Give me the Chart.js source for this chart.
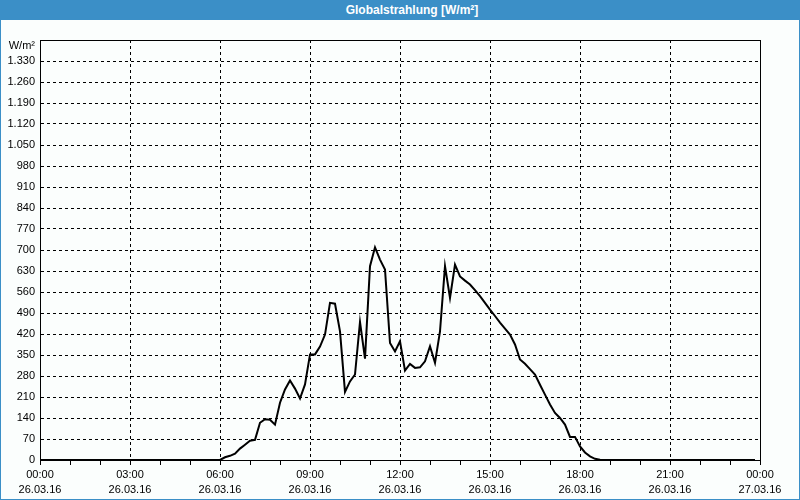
<!DOCTYPE html>
<html>
<head>
<meta charset="utf-8">
<title>Globalstrahlung</title>
<script src="https://cdn.jsdelivr.net/npm/chart.js@4.4.1/dist/chart.umd.min.js"></script>
<style>
    html, body { margin: 0; padding: 0; background: #fbfefd; }
    #wrap { position: fixed; left: 0; top: 0; width: 800px; height: 500px; }
    #titlebar {
        position: fixed; left: 0; top: 0; width: 800px; height: 20px;
        box-sizing: border-box; padding-left: 24px;
        background: #3b8fc7; color: #fff; text-align: center;
        font: bold 12px "Liberation Sans", Arial, sans-serif; line-height: 20px;
    }
    #frame {
        position: fixed; left: 0; top: 0; width: 800px; height: 500px;
        box-sizing: border-box; border: 1px solid #3b8fc7; pointer-events: none;
    }
</style>
</head>
<body>
<div id="wrap"><canvas id="radChart"></canvas></div>
<div id="titlebar">Globalstrahlung [W/m²]</div>
<div id="frame"></div>

<script>
    // --- DATA (10-Minuten-Werte) ---
    const unitLabel = 'W/m²';
    const dayLabels = ['26.03.16', '27.03.16'];

    const sampleTimes = [
        '00:00', '06:00', '06:10', '06:20', '06:30', '06:40', '06:50',
        '07:00', '07:10', '07:20', '07:30', '07:40', '07:50',
        '08:00', '08:10', '08:20', '08:30', '08:40', '08:50',
        '09:00', '09:10', '09:20', '09:30', '09:40', '09:50',
        '10:00', '10:10', '10:20', '10:30', '10:40', '10:50',
        '11:00', '11:10', '11:20', '11:30', '11:40', '11:50',
        '12:00', '12:10', '12:20', '12:30', '12:40', '12:50',
        '13:00', '13:10', '13:20', '13:30', '13:40', '13:50',
        '14:00', '14:10', '14:20', '14:30', '14:40', '14:50',
        '15:00', '15:10', '15:20', '15:30', '15:40', '15:50',
        '16:00', '16:10', '16:20', '16:30', '16:40', '16:50',
        '17:00', '17:10', '17:20', '17:30', '17:40', '17:50',
        '18:00', '18:10', '18:20', '18:30', '18:40', '18:50', '23:50'
    ];

    const radiation = [
        0, 0, 9, 14, 21, 38, 51,
        64, 67, 124, 136, 134, 118,
        191, 235, 265, 238, 205, 252,
        352, 352, 378, 418, 524, 521,
        429, 227, 262, 285, 460, 338,
        646, 709, 668, 635, 390, 362,
        396, 298, 320, 307, 309, 329,
        379, 324, 429, 646, 540, 651,
        612, 598, 585, 566, 546, 524,
        501, 480, 458, 438, 418, 385,
        335, 321, 303, 285, 251, 218,
        185, 157, 140, 118, 77, 77,
        45, 25, 12, 4, 1, 0, 0
    ];

    const yMax = 1400;
    const yStep = 70;

    // --- HELPERS ---
    function toHours(t) {
        const [h, m] = t.split(':').map(Number);
        return h + m / 60;
    }

    function fmtThousands(v) {
        return String(v).replace(/\B(?=(\d{3})+(?!\d))/g, '.');
    }

    const fontFamily = '"Liberation Sans", Arial, sans-serif';

    // Rahmen um den Plotbereich + Einheit oben links
    const frameBox = {
        id: 'frameBox',
        beforeDatasetsDraw(c) {
            const a = c.chartArea;
            const ctx = c.ctx;
            ctx.save();
            ctx.strokeStyle = '#000';
            ctx.lineWidth = 1;
            ctx.strokeRect(Math.round(a.left) + 0.5, Math.round(a.top) + 0.5,
                           Math.round(a.width), Math.round(a.height));
            ctx.restore();
        },
        afterDraw(c) {
            const ctx = c.ctx;
            ctx.save();
            ctx.font = '11px ' + fontFamily;
            ctx.fillStyle = '#000';
            ctx.textAlign = 'right';
            ctx.textBaseline = 'middle';
            ctx.fillText(unitLabel, c.chartArea.left - 5, c.chartArea.top + 6);
            ctx.restore();
        }
    };

    let chart;

    function initChart() {
        const ctx = document.getElementById('radChart').getContext('2d');
        chart = new Chart(ctx, {
            type: 'line',
            data: {
                datasets: [{
                    label: 'Globalstrahlung',
                    data: sampleTimes.map((t, i) => ({ x: toHours(t), y: radiation[i] })),
                    borderColor: '#000',
                    borderWidth: 2,
                    pointRadius: 0,
                    tension: 0,
                    fill: false
                }]
            },
            options: {
                responsive: true,
                maintainAspectRatio: false,
                animation: false,
                layout: { padding: { top: 40, right: 40, left: 0, bottom: 0 } },
                plugins: {
                    legend: { display: false },
                    tooltip: { enabled: false },
                    title: { display: false }
                },
                scales: {
                    x: {
                        type: 'linear',
                        min: 0,
                        max: 24,
                        afterFit: s => { s.height = 40; },
                        ticks: {
                            stepSize: 1,
                            autoSkip: false,
                            maxRotation: 0,
                            padding: 3,
                            color: '#000',
                            font: { family: fontFamily, size: 11, lineHeight: 1.35 },
                            callback: v => {
                                if (v % 3 !== 0) return '';
                                const hh = String(v % 24).padStart(2, '0') + ':00';
                                return [hh, v < 24 ? dayLabels[0] : dayLabels[1]];
                            }
                        },
                        grid: {
                            color: c => (c.tick && c.tick.value % 3 === 0) ? '#000' : 'rgba(0,0,0,0)',
                            tickColor: '#000',
                            tickLength: 5,
                            lineWidth: 1
                        },
                        border: { display: true, color: '#000', width: 1, dash: [3, 3] }
                    },
                    y: {
                        min: 0,
                        max: yMax,
                        afterFit: s => { s.width = 40; },
                        ticks: {
                            stepSize: yStep,
                            padding: 5,
                            color: '#000',
                            font: { family: fontFamily, size: 11 },
                            callback: v => v >= yMax ? '' : fmtThousands(v)
                        },
                        grid: {
                            color: '#000',
                            drawTicks: false,
                            lineWidth: 1
                        },
                        border: { display: true, color: '#000', width: 1, dash: [3, 3] }
                    }
                }
            },
            plugins: [frameBox]
        });
    }

    window.onload = function () {
        initChart();
    };
</script>
</body>
</html>
